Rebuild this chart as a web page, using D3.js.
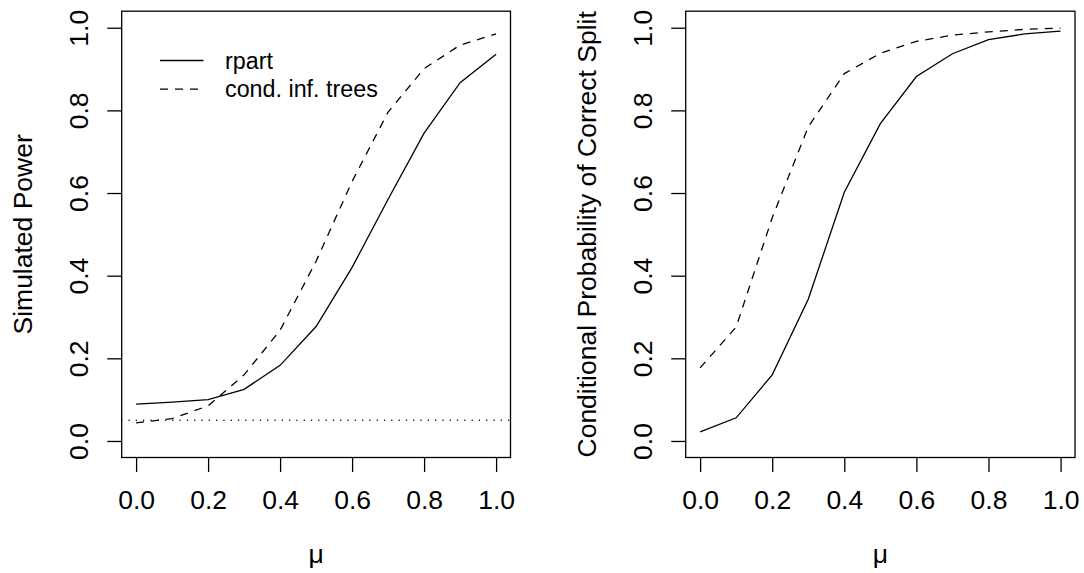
<!DOCTYPE html>
<html>
<head>
<meta charset="utf-8">
<script src="https://cdn.jsdelivr.net/npm/d3@7"></script>
<style>
  body { margin: 0; background: #fff; }
  svg { display: block; font-family: "Liberation Sans", Arial, Helvetica, sans-serif; }
</style>
</head>
<body>
<script>
// values
const mu = [0, 0.1, 0.2, 0.3, 0.4, 0.5, 0.6, 0.7, 0.8, 0.9, 1.0];
const powerRpart = [0.089, 0.094, 0.100, 0.125, 0.183, 0.277, 0.420, 0.585, 0.745, 0.867, 0.936];
const powerCtree = [0.044, 0.054, 0.085, 0.160, 0.268, 0.435, 0.628, 0.796, 0.901, 0.958, 0.985];
const probRpart = [0.022, 0.056, 0.160, 0.343, 0.602, 0.768, 0.882, 0.937, 0.971, 0.985, 0.992];
const probCtree = [0.177, 0.276, 0.540, 0.760, 0.889, 0.938, 0.967, 0.982, 0.990, 0.996, 0.999];
const alpha = 0.05;
const ticks = [0, 0.2, 0.4, 0.6, 0.8, 1.0];
const legendLabels = ["rpart", "cond. inf. trees"];

const width = 1084, height = 573;
const fs = 26.5;

const svg = d3.select("body").append("svg")
    .attr("width", width)
    .attr("height", height);

function panel(box, ylab, rpart, ctree, opts) {
  const x = d3.scaleLinear().domain([-0.04, 1.04]).range([box.left, box.right]);
  const y = d3.scaleLinear().domain([-0.04, 1.04]).range([box.bottom, box.top]);
  const g = svg.append("g");

  const line = vals => d3.line()
      .x((d, i) => x(mu[i]))
      .y(d => y(d))(vals);

  if (opts.hline != null) {
    g.append("line")
        .attr("x1", box.left).attr("x2", box.right)
        .attr("y1", y(opts.hline)).attr("y2", y(opts.hline))
        .attr("stroke", "#000")
        .attr("stroke-width", 1.4)
        .attr("stroke-linecap", "round")
        .attr("stroke-dasharray", "0.1,7.2");
  }

  g.append("path")
      .attr("d", line(rpart))
      .attr("fill", "none")
      .attr("stroke", "#000")
      .attr("stroke-width", 1.3);

  g.append("path")
      .attr("d", line(ctree))
      .attr("fill", "none")
      .attr("stroke", "#000")
      .attr("stroke-width", 1.3)
      .attr("stroke-dasharray", "8,7");

  g.append("rect")
      .attr("x", box.left).attr("y", box.top)
      .attr("width", box.right - box.left)
      .attr("height", box.bottom - box.top)
      .attr("fill", "none")
      .attr("stroke", "#000")
      .attr("stroke-width", 1.3);

  // x axis
  g.append("g")
      .attr("transform", `translate(0,${box.bottom})`)
      .call(d3.axisBottom(x).tickValues(ticks).tickFormat(d3.format(".1f"))
          .tickSize(14.5).tickPadding(18.5))
      .call(a => a.select(".domain").remove())
      .call(a => a.selectAll("line").attr("stroke-width", 1.3))
      .call(a => a.selectAll("text").attr("font-size", fs).attr("font-family", null).attr("fill", "#000"));

  // y axis, labels parallel to the axis
  g.append("g")
      .attr("transform", `translate(${box.left},0)`)
      .call(d3.axisLeft(y).tickValues(ticks).tickFormat(d3.format(".1f")).tickSize(14.5))
      .call(a => a.select(".domain").remove())
      .call(a => a.selectAll("line").attr("stroke-width", 1.3))
      .call(a => a.selectAll("text")
          .attr("x", null).attr("dy", null)
          .attr("transform", "translate(-34,0) rotate(-90)")
          .attr("text-anchor", "middle")
          .attr("font-size", fs).attr("font-family", null).attr("fill", "#000"));

  g.append("text")
      .attr("transform", `translate(${box.left - 90},${(box.top + box.bottom) / 2}) rotate(-90)`)
      .attr("text-anchor", "middle")
      .attr("font-size", fs)
      .text(ylab);

  g.append("text")
      .attr("x", (box.left + box.right) / 2)
      .attr("y", 563)
      .attr("text-anchor", "middle")
      .attr("font-size", fs)
      .text("\u03bc");

  if (opts.legend) {
    const lg = g.append("g");
    legendLabels.forEach((lab, i) => {
      const ly = 60.5 + i * 28.6;
      lg.append("line")
          .attr("x1", 160).attr("x2", 203.5)
          .attr("y1", ly).attr("y2", ly)
          .attr("stroke", "#000")
          .attr("stroke-width", 1.3)
          .attr("stroke-dasharray", i ? "8,7" : null);
      lg.append("text")
          .attr("x", 225)
          .attr("y", ly + 8)
          .attr("font-size", 23.3)
          .text(lab);
    });
  }
}

panel({left: 121.7, right: 510.5, top: 11.2, bottom: 457.5}, "Simulated Power",
      powerRpart, powerCtree, {hline: alpha, legend: true});
panel({left: 685.7, right: 1075, top: 11.2, bottom: 457.5}, "Conditional Probability of Correct Split",
      probRpart, probCtree, {});
</script>
</body>
</html>
